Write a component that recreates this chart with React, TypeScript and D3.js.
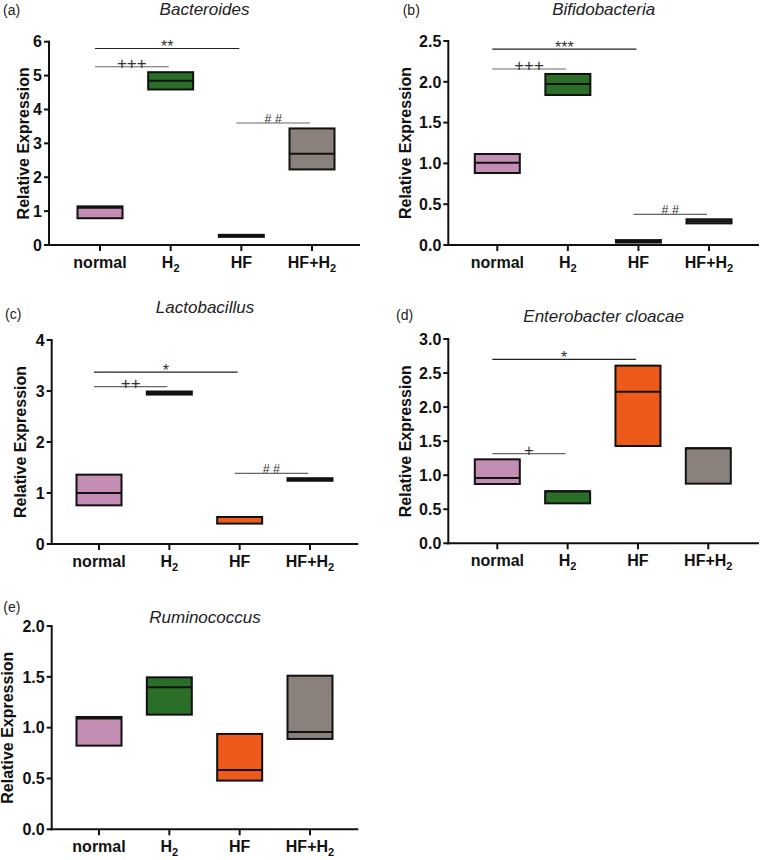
import React from "react";
import * as d3 from "d3";

// ---------- data ----------
const categories = ["normal", "H2", "HF", "HF+H2"];
const panelLabels = ["(a)", "(b)", "(c)", "(d)", "(e)"];
const panelTitles = ["Bacteroides", "Bifidobacteria", "Lactobacillus", "Enterobacter cloacae", "Ruminococcus"];
const yDomainMax = [6, 2.5, 4, 3, 2];
const yTickValues = [
  [0, 1, 2, 3, 4, 5, 6],
  [0, 0.5, 1, 1.5, 2, 2.5],
  [0, 1, 2, 3, 4],
  [0, 0.5, 1, 1.5, 2, 2.5, 3],
  [0, 0.5, 1, 1.5, 2],
];
const yTickFormats = ["d", ".1f", "d", ".1f", ".1f"];
const groupColors = ["#c38db4", "#2a6e27", "#ee5a1a", "#8a817d"];

// [min, median, max] per category
const bacteroides = [[0.79, 1.1, 1.14], [4.59, 4.85, 5.1], [0.24, 0.27, 0.3], [2.23, 2.69, 3.44]];
const bifidobacteria = [[0.882, 1.009, 1.115], [1.838, 1.973, 2.096], [0.03, 0.045, 0.06], [0.265, 0.29, 0.315]];
const lactobacillus = [[0.758, 1.0, 1.36], [2.93, 2.96, 2.99], [0.4, 0.53, 0.53], [1.24, 1.265, 1.29]];
const enterobacter = [[0.871, 0.959, 1.233], [0.587, 0.764, 0.764], [1.429, 2.227, 2.609], [0.876, 1.395, 1.395]];
const ruminococcus = [[0.823, 1.09, 1.105], [1.128, 1.397, 1.495], [0.479, 0.584, 0.938], [0.889, 0.957, 1.511]];
const panelValues = [bacteroides, bifidobacteria, lactobacillus, enterobacter, ruminococcus];

// significance brackets: [fromIndex, toIndex, y value, label]
const sigBacteroides: [number, number, number, string][] = [[0, 2, 5.8, "**"], [0, 1, 5.26, "+++"], [2, 3, 3.6, "# #"]];
const sigBifidobacteria: [number, number, number, string][] = [[0, 2, 2.4, "***"], [0, 1, 2.157, "+++"], [2, 3, 0.376, "# #"]];
const sigLactobacillus: [number, number, number, string][] = [[0, 2, 3.37, "*"], [0, 1, 3.085, "++"], [2, 3, 1.386, "# #"]];
const sigEnterobacter: [number, number, number, string][] = [[0, 2, 2.7, "*"], [0, 1, 1.317, "+"]];
const sigRuminococcus: [number, number, number, string][] = [];
const panelSigs = [sigBacteroides, sigBifidobacteria, sigLactobacillus, sigEnterobacter, sigRuminococcus];

// ---------- layout ----------
type Layout = {
  axisX0: number; axisX1: number; tick0: number; tick1: number;
  yTop: number; yBottom: number; yTitleX: number;
  titleY: number; labelX: number; labelY: number;
};
const layouts: Layout[] = [
  { axisX0: 49, axisX1: 360, tick0: 100, tick1: 312, yTop: 41.7, yBottom: 245, yTitleX: 29, titleY: 15, labelX: 3, labelY: 15.3 },
  { axisX0: 448.3, axisX1: 759, tick0: 497.3, tick1: 709, yTop: 41, yBottom: 245, yTitleX: 411, titleY: 15, labelX: 402.7, labelY: 15.3 },
  { axisX0: 51.7, axisX1: 358.3, tick0: 99, tick1: 310, yTop: 340, yBottom: 544, yTitleX: 26, titleY: 313.3, labelX: 5, labelY: 318.7 },
  { axisX0: 448.3, axisX1: 759, tick0: 497.3, tick1: 708.3, yTop: 339, yBottom: 543.3, yTitleX: 411, titleY: 321.7, labelX: 396, labelY: 320.3 },
  { axisX0: 51.7, axisX1: 358.3, tick0: 99, tick1: 310, yTop: 626, yBottom: 829.3, yTitleX: 13, titleY: 623.3, labelX: 3.3, labelY: 612 },
];

const FONT = "'Liberation Sans', Arial, Helvetica, sans-serif";
const BOX_W = 45;

function CatLabel({ name, x, y }: { name: string; x: number; y: number }) {
  if (name.endsWith("2")) {
    return (
      <text x={x} y={y} textAnchor="middle" fontFamily={FONT} fontWeight="bold" fontSize={16} fill="#111">
        {name.slice(0, -1)}
        <tspan fontSize={11} dy={4}>2</tspan>
      </text>
    );
  }
  return (
    <text x={x} y={y} textAnchor="middle" fontFamily={FONT} fontWeight="bold" fontSize={16} fill="#111">
      {name}
    </text>
  );
}

function Panel({ idx }: { idx: number }) {
  const L = layouts[idx];
  const x = d3.scalePoint<string>().domain(categories).range([L.tick0, L.tick1]).padding(0);
  const y = d3.scaleLinear().domain([0, yDomainMax[idx]]).range([L.yBottom, L.yTop]);
  const fmt = d3.format(yTickFormats[idx]);
  const values = panelValues[idx];
  const sigs = panelSigs[idx];
  const midX = (L.axisX0 + L.axisX1) / 2;
  const midY = (L.yTop + L.yBottom) / 2;

  return (
    <g>
      <text x={L.labelX} y={L.labelY} fontFamily={FONT} fontSize={14} fill="#222">{panelLabels[idx]}</text>
      <text x={midX} y={L.titleY} textAnchor="middle" fontFamily={FONT} fontStyle="italic" fontSize={17} fill="#222">
        {panelTitles[idx]}
      </text>
      <text
        transform={`translate(${L.yTitleX},${midY}) rotate(-90)`}
        textAnchor="middle" fontFamily={FONT} fontWeight="bold" fontSize={16} fill="#111"
      >
        Relative Expression
      </text>

      {/* boxes */}
      {values.map((v, i) => {
        const cx = x(categories[i]) as number;
        const top = y(v[2]);
        const bot = y(v[0]);
        return (
          <g key={i}>
            <rect x={cx - BOX_W / 2} y={top} width={BOX_W} height={Math.max(0.5, bot - top)}
              fill={groupColors[i]} stroke="#111" strokeWidth={2} />
            <line x1={cx - BOX_W / 2} x2={cx + BOX_W / 2} y1={y(v[1])} y2={y(v[1])} stroke="#111" strokeWidth={2} />
          </g>
        );
      })}

      {/* significance */}
      {sigs.map((s, i) => {
        const x1 = (x(categories[s[0]]) as number) - 5;
        const x2 = (x(categories[s[1]]) as number) - 2;
        const ly = y(s[2]);
        const isStar = s[3].includes("*");
        const isHash = s[3].includes("#");
        const fs = isHash ? 12.5 : isStar ? 16 : 17;
        const ty = isStar ? ly + 4 : isHash ? ly : ly + 2;
        return (
          <g key={i}>
            <line x1={x1} x2={x2} y1={ly} y2={ly} stroke={isStar ? "#222" : "#666"} strokeWidth={1.2} />
            <text x={(x1 + x2) / 2} y={ty} textAnchor="middle" fontFamily={FONT} fontSize={fs} fill="#333">{s[3]}</text>
          </g>
        );
      })}

      {/* y axis */}
      <line x1={L.axisX0} x2={L.axisX0} y1={L.yTop - 1} y2={L.yBottom + 1} stroke="#111" strokeWidth={2} />
      {yTickValues[idx].map((t) => (
        <g key={t}>
          <line x1={L.axisX0 - 5} x2={L.axisX0} y1={y(t)} y2={y(t)} stroke="#111" strokeWidth={2} />
          <text x={L.axisX0 - 7} y={y(t)} dy="0.36em" textAnchor="end" fontFamily={FONT} fontWeight="bold" fontSize={16} fill="#111">
            {fmt(t)}
          </text>
        </g>
      ))}

      {/* x axis */}
      <line x1={L.axisX0 - 1} x2={L.axisX1} y1={L.yBottom} y2={L.yBottom} stroke="#111" strokeWidth={2} />
      {categories.map((c) => (
        <g key={c}>
          <line x1={x(c) as number} x2={x(c) as number} y1={L.yBottom} y2={L.yBottom + 6} stroke="#111" strokeWidth={2} />
          <CatLabel name={c} x={x(c) as number} y={L.yBottom + 23} />
        </g>
      ))}
    </g>
  );
}

export default function App() {
  return (
    <svg width={760} height={860} style={{ position: "absolute", left: 0, top: 0, background: "#fff" }}>
      <rect x={0} y={0} width={760} height={860} fill="#fff" />
      {panelTitles.map((_, i) => (
        <Panel key={i} idx={i} />
      ))}
    </svg>
  );
}
